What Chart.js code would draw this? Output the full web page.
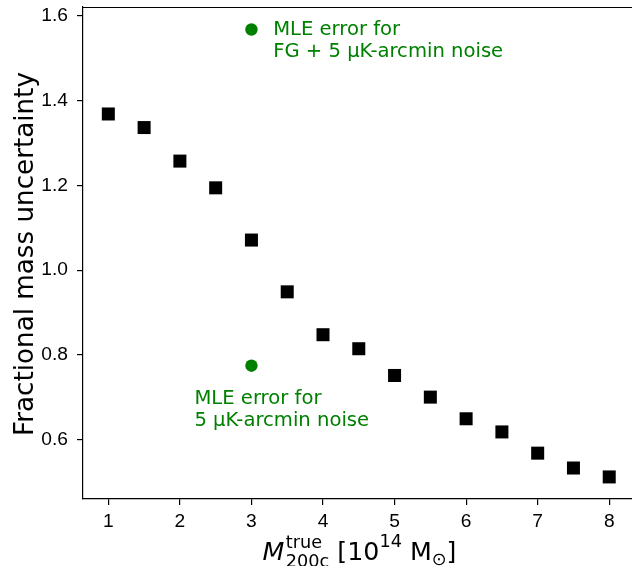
<!DOCTYPE html>
<html>
<head>
<meta charset="utf-8">
<script src="https://cdn.jsdelivr.net/npm/chart.js@4.4.1/dist/chart.umd.min.js"></script>
<style>
  html, body { margin: 0; padding: 0; background: #ffffff; overflow: hidden; width: 632px; height: 566px; }
  canvas { display: block; }
</style>
</head>
<body>
<!-- the plot frame is cropped on the right, so the canvas runs a little past the page -->
<canvas id="chart" width="640" height="566"></canvas>
<script>
// True halo mass, in units of 10^14 solar masses
const massTrue = [1, 1.5, 2, 2.5, 3, 3.5, 4, 4.5, 5, 5.5, 6, 6.5, 7, 7.5, 8];
// Fractional mass uncertainty for each mass bin
const fracUncertainty = [1.368, 1.336, 1.257, 1.194, 1.071, 0.949, 0.848, 0.815,
                         0.752, 0.701, 0.650, 0.619, 0.569, 0.534, 0.513];
// Maximum-likelihood error at M = 3: with foregrounds + noise, and noise only
const mleMass = [3, 3];
const mleError = [1.567, 0.775];

// Axis tick values
const xTickValues = [1, 2, 3, 4, 5, 6, 7, 8];
const yTickValues = [0.6, 0.8, 1.0, 1.2, 1.4, 1.6];

// Annotation text and where its first baseline sits (data coordinates)
const fgNoteLines = ['MLE error for', 'FG + 5 \u03bcK-arcmin noise'];
const noiseNoteLines = ['MLE error for', '5 \u03bcK-arcmin noise'];
const fgNoteAt = { x: 3.303, y: 1.5535 };
const noiseNoteAt = { x: 2.203, y: 0.685 };

const GREEN = '#008000';
const TICK_FONT = { family: "'Liberation Sans', Arial, sans-serif", size: 19.2 };
const TEXT_FAMILY = "'DejaVu Sans', sans-serif";

const points = (xs, ys) => xs.map((x, i) => ({ x: x, y: ys[i] }));

// Frame line along the top of the plot area
const topSpine = {
  id: 'topSpine',
  afterDraw(chart) {
    const { ctx, chartArea } = chart;
    ctx.save();
    ctx.strokeStyle = '#000000';
    ctx.lineWidth = 1.2;
    ctx.beginPath();
    ctx.moveTo(chartArea.left, chartArea.top + 0.5);
    ctx.lineTo(chartArea.right, chartArea.top + 0.5);
    ctx.stroke();
    ctx.restore();
  }
};

// Green notes next to the two MLE points
const notes = {
  id: 'notes',
  afterDatasetsDraw(chart) {
    const { ctx, scales } = chart;
    const draw = (lines, at) => {
      const x = scales.x.getPixelForValue(at.x);
      const y = scales.y.getPixelForValue(at.y);
      ctx.save();
      ctx.font = '19.6px ' + TEXT_FAMILY;
      ctx.fillStyle = GREEN;
      ctx.textAlign = 'left';
      ctx.textBaseline = 'alphabetic';
      lines.forEach((t, i) => ctx.fillText(t, x, y + i * 21.7));
      ctx.restore();
    };
    draw(fgNoteLines, fgNoteAt);
    draw(noiseNoteLines, noiseNoteAt);
  }
};

// Axis titles: the x title carries sub- and superscripts
const axisTitles = {
  id: 'axisTitles',
  afterDraw(chart) {
    const { ctx } = chart;
    ctx.save();
    ctx.fillStyle = '#000000';

    // y title, rotated
    ctx.font = '26.2px ' + TEXT_FAMILY;
    ctx.translate(33.3, 254);
    ctx.rotate(-Math.PI / 2);
    ctx.textAlign = 'center';
    ctx.textBaseline = 'alphabetic';
    ctx.fillText('Fractional mass uncertainty', 0, 0);
    ctx.setTransform(1, 0, 0, 1, 0, 0);

    // x title: M_{200c}^{true} [10^{14} M_sun]
    const size = 25.3, small = 17.7;
    const base = 560;
    const main = size + 'px ' + TEXT_FAMILY;
    const ital = 'oblique ' + size + 'px ' + TEXT_FAMILY;
    const sm = small + 'px ' + TEXT_FAMILY;
    const runs = [
      { t: 'M', f: ital, dy: 0 },
      { stack: [{ t: 'true', f: sm, dy: -12.5 }, { t: '200c', f: sm, dy: 7 }], gapBefore: 1.5 },
      { t: ' [10', f: main, dy: 0 },
      { t: '14', f: sm, dy: -13 },
      { t: ' M', f: main, dy: 0 },
      { t: '\u2299', f: sm, dy: 5 },
      { t: ']', f: main, dy: 0 }
    ];
    const w = (r) => { ctx.font = r.f; return ctx.measureText(r.t).width; };
    let total = 0;
    runs.forEach(r => {
      if (r.stack) total += (r.gapBefore || 0) + Math.max(...r.stack.map(w));
      else total += w(r);
    });
    let x = 359.5 - total / 2;
    ctx.textAlign = 'left';
    ctx.textBaseline = 'alphabetic';
    runs.forEach(r => {
      if (r.stack) {
        x += r.gapBefore || 0;
        let mw = 0;
        r.stack.forEach(s => { ctx.font = s.f; ctx.fillText(s.t, x, base + s.dy); mw = Math.max(mw, ctx.measureText(s.t).width); });
        x += mw;
      } else {
        ctx.font = r.f;
        ctx.fillText(r.t, x, base + r.dy);
        x += ctx.measureText(r.t).width;
      }
    });
    ctx.restore();
  }
};

new Chart(document.getElementById('chart'), {
  type: 'scatter',
  data: {
    datasets: [
      {
        data: points(massTrue, fracUncertainty),
        pointStyle: 'rect',
        pointRadius: 9.2,
        pointHoverRadius: 9.2,
        backgroundColor: '#000000',
        borderWidth: 0
      },
      {
        data: points(mleMass, mleError),
        pointStyle: 'circle',
        pointRadius: 6.2,
        pointHoverRadius: 6.2,
        backgroundColor: GREEN,
        borderWidth: 0
      }
    ]
  },
  options: {
    responsive: false,
    animation: false,
    devicePixelRatio: 1,
    layout: { autoPadding: false, padding: { top: 7, right: 0, bottom: 0, left: 0 } },
    plugins: { legend: { display: false }, tooltip: { enabled: false } },
    scales: {
      x: {
        type: 'linear',
        min: 0.646,
        max: 8.43,
        afterBuildTicks: (s) => { s.ticks = xTickValues.map(v => ({ value: v })); },
        afterFit: (s) => { s.height = 67; s.paddingLeft = 0; s.paddingRight = 0; },
        ticks: {
          font: TICK_FONT, color: '#000000', padding: 5, maxRotation: 0,
          callback: (v) => String(v)
        },
        grid: { display: true, drawOnChartArea: false, drawTicks: true, tickLength: 6, color: '#000000', lineWidth: 1.2 },
        border: { display: true, color: '#000000', width: 1.2 }
      },
      y: {
        type: 'linear',
        min: 0.461,
        max: 1.62,
        afterBuildTicks: (s) => { s.ticks = yTickValues.map(v => ({ value: v })); },
        afterFit: (s) => { s.width = 83; s.paddingTop = 0; s.paddingBottom = 0; },
        ticks: {
          font: TICK_FONT, color: '#000000', padding: 9,
          callback: (v) => Number(v).toFixed(1)
        },
        grid: { display: true, drawOnChartArea: false, drawTicks: true, tickLength: 6, color: '#000000', lineWidth: 1.2 },
        border: { display: true, color: '#000000', width: 1.2 }
      }
    }
  },
  plugins: [topSpine, notes, axisTitles]
});
</script>
</body>
</html>
